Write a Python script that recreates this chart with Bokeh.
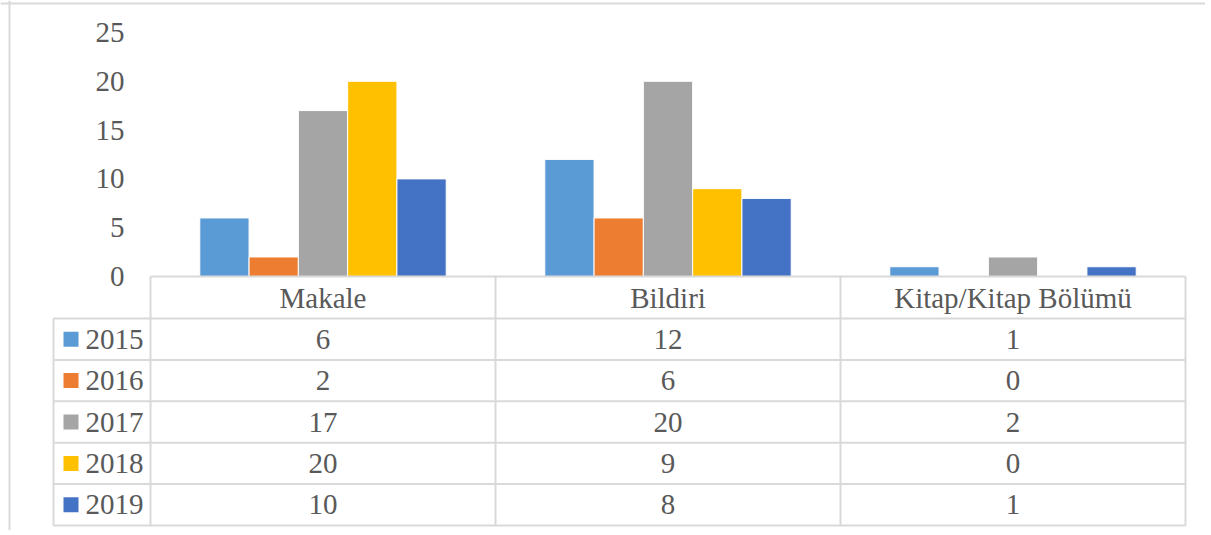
from bokeh.plotting import figure
from bokeh.models import Range1d, Span
from bokeh.core.properties import value
from bokeh.embed import file_html
from bokeh.resources import INLINE

# ---- data ----
categories = ["Makale", "Bildiri", "Kitap/Kitap Bölümü"]
years = ["2015", "2016", "2017", "2018", "2019"]
v2015 = [6, 12, 1]
v2016 = [2, 6, 0]
v2017 = [17, 20, 2]
v2018 = [20, 9, 0]
v2019 = [10, 8, 1]
series = [v2015, v2016, v2017, v2018, v2019]
colors = ["#5b9bd5", "#ed7d31", "#a5a5a5", "#ffc000", "#4472c4"]
y_ticks = [0, 5, 10, 15, 20, 25]

# ---- layout (image pixels) ----
OFF = 0                  # where the canvas lands in the picture
W, H = 1205, 530
X0, CW = 150, 345        # left of first category band, band width
Y0, PPU = 276, 9.76      # pixel y of value 0, pixels per unit
ROW0, RH = 318, 41.4     # first data row top, row height
LEG_L = 53               # legend column left
GRID = "#d9d9d9"
TXT = "#595959"
FONT = value("'Liberation Serif', 'Times New Roman', serif")
FS = "29px"


def dx(px):
    return (px - X0) / CW


def dy(py):
    return (Y0 - py) / PPU


p = figure(width=W, height=H, output_backend="svg", toolbar_location=None,
           x_range=Range1d(dx(OFF), dx(OFF + W)), y_range=Range1d(dy(OFF + H), dy(OFF)),
           x_axis_location=None, y_axis_location=None, min_border=0,
           outline_line_color=None, background_fill_color="white",
           border_fill_color="white")
p.grid.visible = False

n = len(categories)
nser = len(series)
bw = 1.0 / (nser + 2)

# bars
for i, (vals, c) in enumerate(zip(series, colors)):
    xs = [k + (1.5 + i) * bw for k in range(n)]
    p.vbar(x=xs, top=vals, bottom=0, width=bw, fill_color=c,
           line_color="white", line_width=1)

# table grid
row_edges = [dy(ROW0 + RH * r) for r in range(nser + 1)]
p.segment(x0=[0], y0=[0], x1=[n], y1=[0], line_color=GRID, line_width=2)
p.segment(x0=[dx(LEG_L)] * len(row_edges), y0=row_edges,
          x1=[n] * len(row_edges), y1=row_edges, line_color=GRID, line_width=2)
p.segment(x0=list(range(n + 1)), y0=[0] * (n + 1), x1=list(range(n + 1)),
          y1=[row_edges[-1]] * (n + 1), line_color=GRID, line_width=2)
p.segment(x0=[dx(LEG_L)], y0=[row_edges[0]], x1=[dx(LEG_L)], y1=[row_edges[-1]],
          line_color=GRID, line_width=2)

# y tick labels
p.text(x=[dx(124)] * len(y_ticks), y=y_ticks, text=[str(t) for t in y_ticks],
       text_align="right", text_baseline="middle", text_font=FONT,
       text_font_size=FS, text_color=TXT)

# header labels
p.text(x=[k + 0.5 for k in range(n)], y=[dy((Y0 + ROW0) / 2)] * n, text=categories,
       text_align="center", text_baseline="middle", text_font=FONT,
       text_font_size=FS, text_color=TXT)

# rows
row_centers = [(row_edges[r] + row_edges[r + 1]) / 2 for r in range(nser)]
p.scatter(x=[dx(70.5)] * nser, y=row_centers, marker="square", size=15,
          fill_color=colors, line_color=None)
p.text(x=[dx(85)] * nser, y=row_centers, text=years, text_align="left",
       text_baseline="middle", text_font=FONT, text_font_size=FS, text_color=TXT)
for r, vals in enumerate(series):
    p.text(x=[k + 0.5 for k in range(n)], y=[row_centers[r]] * n,
           text=[str(v) for v in vals], text_align="center", text_baseline="middle",
           text_font=FONT, text_font_size=FS, text_color=TXT)

# chart area border (left and top)
p.add_layout(Span(location=dx(9), dimension="height", line_color=GRID, line_width=2))
p.add_layout(Span(location=dy(3), dimension="width", line_color=GRID, line_width=2))

open("out.html", "w").write(file_html(p, INLINE))
